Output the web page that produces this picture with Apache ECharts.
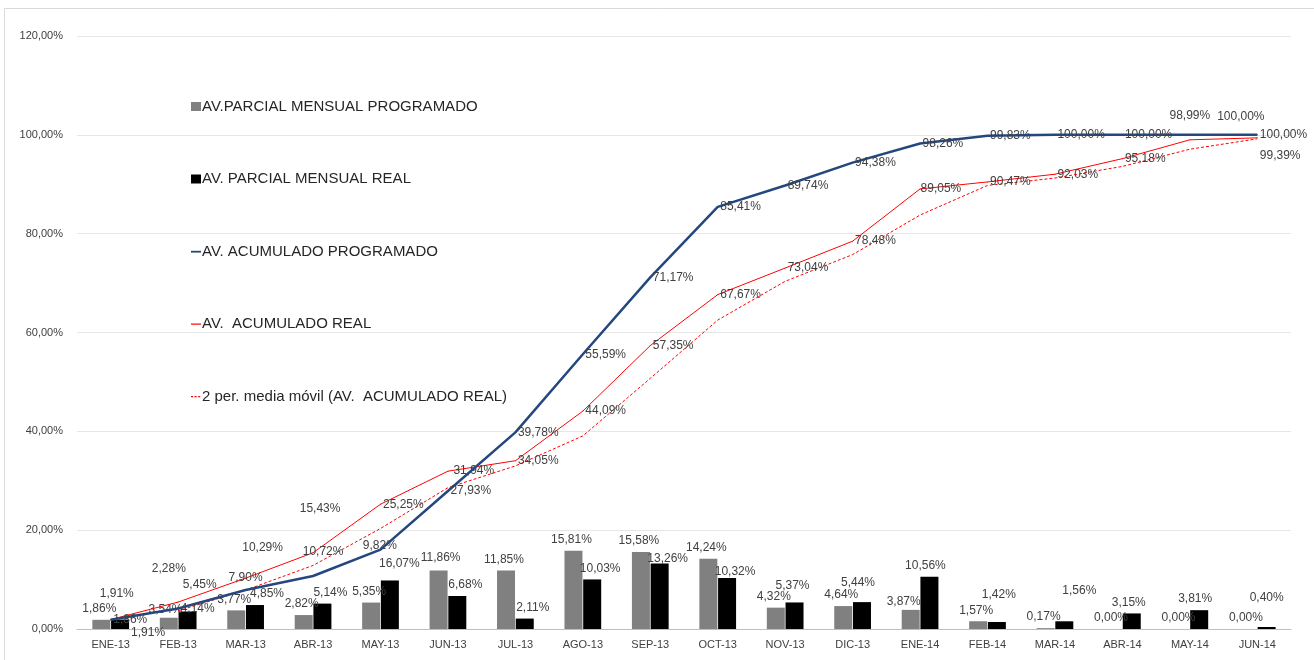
<!DOCTYPE html>
<html>
<head>
<meta charset="utf-8">
<script src="https://cdn.jsdelivr.net/npm/echarts@6/dist/echarts.min.js"></script>
<style>
  html, body { margin: 0; padding: 0; background: #fff; }
  #chart { width: 1314px; height: 660px; }
</style>
</head>
<body>
<div id="chart"></div>
<script>
// meses
const months = ['ENE-13', 'FEB-13', 'MAR-13', 'ABR-13', 'MAY-13', 'JUN-13', 'JUL-13', 'AGO-13', 'SEP-13',
  'OCT-13', 'NOV-13', 'DIC-13', 'ENE-14', 'FEB-14', 'MAR-14', 'ABR-14', 'MAY-14', 'JUN-14']
// avance parcial mensual (%)
const parcialProgramado = [1.86, 2.28, 3.77, 2.82, 5.35, 11.86, 11.85, 15.81, 15.58, 14.24, 4.32, 4.64, 3.87, 1.57, 0.17, 0.00, 0.00, 0.00]
const parcialReal = [1.91, 3.54, 4.85, 5.14, 9.82, 6.68, 2.11, 10.03, 13.26, 10.32, 5.37, 5.44, 10.56, 1.42, 1.56, 3.15, 3.81, 0.40]
// avance acumulado (%)
const acumProgramado = [1.86, 4.14, 7.90, 10.72, 16.07, 27.93, 39.78, 55.59, 71.17, 85.41, 89.74, 94.38, 98.26, 99.83, 100.00, 100.00, 100.00, 100.00]
const acumReal = [1.91, 5.45, 10.29, 15.43, 25.25, 31.94, 34.05, 44.09, 57.35, 67.67, 73.04, 78.48, 89.05, 90.47, 92.03, 95.18, 98.99, 99.39]
// media movil de 2 periodos
const mediaMovil = [null, 3.68, 7.87, 12.86, 20.34, 28.60, 33.00, 39.07, 50.72, 62.51, 70.36, 75.76, 83.77, 89.76, 91.25, 93.61, 97.09, 99.19]
// ticks eje y
const yTicks = [0, 20, 40, 60, 80, 100, 120]

const FONT = 'Liberation Sans'
const pct = v => v.toFixed(2).replace('.', ',') + '%'

// ajustes de etiquetas donde Excel las movio
const tweaks = {
  grisP: {
    1: { position: 'top', offset: [0, -38] },
    5: { position: 'top', offset: [2, -2] },
    12: { position: 'top', offset: [-7, 3] }
  },
  negroR: {
    0: { position: 'bottom', offset: [28, -7] },
    1: { position: 'top', offset: [-22, 9] },
    2: { position: 'top', offset: [12, 0] },
    4: { position: 'top', offset: [-10, -24] },
    8: { position: 'top', offset: [8, 6] },
    9: { position: 'top', offset: [8, 5] },
    10: { position: 'top', offset: [-2, -6] },
    11: { position: 'top', offset: [-4, -8] },
    12: { position: 'top', offset: [-4, 0] },
    13: { position: 'top', offset: [2, -16] },
    14: { position: 'top', offset: [15, -20] },
    15: { position: 'top', offset: [-3, 0] },
    16: { position: 'top', offset: [-4, 0] },
    17: { position: 'top', offset: [0, -18] }
  },
  azul: {
    2: { position: 'top', offset: [0, -4] },
    3: { position: 'top', offset: [10, -16] },
    4: { position: 'right', offset: [-4, 14] },
    16: { position: 'top', offset: [51, -10] }
  },
  rojo: {
    0: { position: 'top', offset: [6, -17] },
    1: { position: 'right', offset: [2, -17] },
    2: { position: 'top', offset: [17, -22] },
    3: { position: 'top', offset: [7, -36] },
    5: { position: 'right', offset: [3, 0] },
    12: { position: 'right', offset: [-2, 0] },
    16: { position: 'top', offset: [0, -16] },
    17: { position: 'right', offset: [0, 18] }
  }
}

function withLabels (values, key) {
  const t = tweaks[key] || {}
  return values.map((v, i) => t[i] ? { value: v, label: t[i] } : v)
}

const chart = echarts.init(document.getElementById('chart'))
const labelStyle = { color: '#404040', fontFamily: FONT, fontSize: 12, formatter: p => pct(p.value) }

chart.setOption({
  animation: false,
  textStyle: { fontFamily: FONT },
  graphic: [{
    type: 'rect',
    shape: { x: 4.5, y: 8.5, width: 1320, height: 660 },
    style: { fill: 'none', stroke: '#d9d9d9', lineWidth: 1 },
    silent: true
  }],
  grid: { left: 77, right: 23, top: 36, bottom: 31 },
  legend: {
    orient: 'vertical',
    left: 186,
    top: 94,
    itemGap: 57.5,
    itemWidth: 10,
    itemHeight: 9,
    textStyle: { color: '#262626', fontSize: 15, fontFamily: FONT, padding: [0, 0, 0, -4] },
    data: [
      { name: 'AV.PARCIAL MENSUAL PROGRAMADO', icon: 'rect' },
      { name: 'AV. PARCIAL MENSUAL REAL', icon: 'rect' },
      { name: 'AV. ACUMULADO PROGRAMADO', icon: 'path://M0,0M10,9M0,3.8H10V5.6H0Z' },
      { name: 'AV.  ACUMULADO REAL', icon: 'path://M0,0M10,9M0,4H10V5.2H0Z' },
      { name: '2 per. media móvil (AV.  ACUMULADO REAL)', icon: 'path://M0,0M10,9M0,4H2V5.2H0ZM3.6,4H5.6V5.2H3.6ZM7.2,4H9.2V5.2H7.2Z' }
    ]
  },
  xAxis: {
    type: 'category',
    data: months,
    axisLine: { lineStyle: { color: '#bfbfbf' } },
    axisTick: { show: false },
    axisLabel: { color: '#404040', fontSize: 11, fontFamily: FONT, margin: 10 }
  },
  yAxis: {
    type: 'value',
    min: yTicks[0],
    max: yTicks[yTicks.length - 1],
    interval: 20,
    axisLine: { show: false },
    axisTick: { show: false },
    splitLine: { lineStyle: { color: '#e6e6e6' } },
    axisLabel: { color: '#404040', fontSize: 11, fontFamily: FONT, margin: 14, formatter: v => pct(v) }
  },
  series: [
    {
      name: 'AV.PARCIAL MENSUAL PROGRAMADO',
      type: 'bar',
      barWidth: 18,
      barGap: '4%',
      itemStyle: { color: '#808080' },
      label: { show: true, position: 'top', offset: [-2, 0], ...labelStyle },
      data: withLabels(parcialProgramado, 'grisP')
    },
    {
      name: 'AV. PARCIAL MENSUAL REAL',
      type: 'bar',
      barWidth: 18,
      itemStyle: { color: '#000000' },
      label: { show: true, position: 'top', offset: [8, 0], ...labelStyle },
      data: withLabels(parcialReal, 'negroR')
    },
    {
      name: 'AV. ACUMULADO PROGRAMADO',
      type: 'line',
      symbol: 'circle',
      symbolSize: 1,
      showSymbol: true,
      lineStyle: { color: '#24477f', width: 2.5 },
      itemStyle: { color: '#24477f' },
      label: { show: true, position: 'right', distance: 2, ...labelStyle },
      data: withLabels(acumProgramado, 'azul'),
      z: 4
    },
    {
      name: 'AV.  ACUMULADO REAL',
      type: 'line',
      symbol: 'circle',
      symbolSize: 1,
      showSymbol: true,
      lineStyle: { color: '#ff0000', width: 1 },
      itemStyle: { color: '#ff0000' },
      label: { show: true, position: 'right', distance: 2, ...labelStyle },
      data: withLabels(acumReal, 'rojo'),
      z: 3
    },
    {
      name: '2 per. media móvil (AV.  ACUMULADO REAL)',
      type: 'line',
      symbol: 'none',
      lineStyle: { color: '#ff0000', width: 1, type: [3, 2] },
      itemStyle: { color: '#ff0000' },
      data: mediaMovil,
      z: 3
    }
  ]
})
</script>
</body>
</html>
